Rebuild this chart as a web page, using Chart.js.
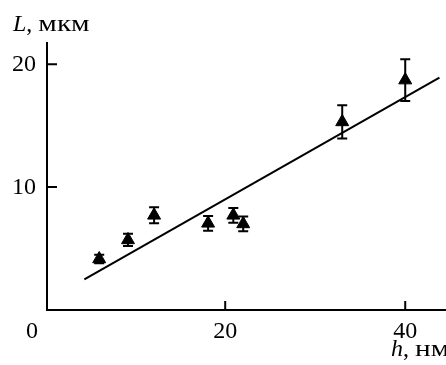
<!DOCTYPE html>
<html>
<head>
<meta charset="utf-8">
<script src="https://cdn.jsdelivr.net/npm/chart.js@4.4.1/dist/chart.umd.min.js"></script>
<style>
  html, body { margin: 0; padding: 0; background: #fff; }
  #wrap { width: 446px; height: 365px; }
</style>
</head>
<body>
<div id="wrap"><canvas id="chart" width="446" height="365"></canvas></div>
<script>
// measured points: film thickness h (nm) vs length L (um)
const hValues = [6.0, 9.2, 12.1, 18.1, 20.9, 22.0, 33.0, 40.0];
const lValues = [4.15, 5.7, 7.7, 7.05, 7.7, 7.0, 15.3, 18.7];
const lErrors = [0.35, 0.5, 0.65, 0.6, 0.6, 0.6, 1.35, 1.7];

// fitted line endpoints
const fitX = [4.35, 43.8];
const fitY = [2.5, 18.9];

const xTicks = [20, 40];
const yTicks = [10, 20];

const FONT = "24px 'Liberation Serif', 'Times New Roman', serif";
const FONT_IT = "italic 24px 'Liberation Serif', 'Times New Roman', serif";

// italic symbol + upright unit, unit text is drawn a bit wider like the original
function drawTitle(ctx, sym, unit, x, y) {
    ctx.font = FONT_IT;
    ctx.fillText(sym, x, y);
    const w = ctx.measureText(sym).width;
    ctx.font = FONT;
    ctx.fillText(",", x + w, y);
    const cw = ctx.measureText(", ").width;
    ctx.save();
    ctx.translate(x + w + cw, y);
    ctx.scale(1.22, 1);
    ctx.fillText(unit, 0, 0);
    ctx.restore();
}

const axesPlugin = {
    id: "axesPlugin",
    beforeDatasetsDraw(chart) {
        const ctx = chart.ctx;
        const x = chart.scales.x;
        const y = chart.scales.y;
        const area = chart.chartArea;

        ctx.save();
        ctx.strokeStyle = "#000";
        ctx.fillStyle = "#000";
        ctx.lineWidth = 2;

        // axis lines
        ctx.beginPath();
        ctx.moveTo(area.left, area.top);
        ctx.lineTo(area.left, area.bottom);
        ctx.lineTo(area.right, area.bottom);
        ctx.stroke();

        // inward ticks
        ctx.beginPath();
        xTicks.forEach(v => {
            const px = x.getPixelForValue(v);
            ctx.moveTo(px, area.bottom);
            ctx.lineTo(px, area.bottom - 9);
        });
        yTicks.forEach(v => {
            const py = y.getPixelForValue(v);
            ctx.moveTo(area.left, py);
            ctx.lineTo(area.left + 10, py);
        });
        ctx.stroke();

        // tick labels
        ctx.font = FONT;
        ctx.textAlign = "center";
        ctx.textBaseline = "alphabetic";
        xTicks.forEach(v => {
            ctx.fillText(String(v), x.getPixelForValue(v), area.bottom + 28);
        });
        ctx.fillText("0", area.left - 15, area.bottom + 28);

        ctx.textAlign = "right";
        ctx.textBaseline = "middle";
        yTicks.forEach(v => {
            ctx.fillText(String(v), area.left - 11, y.getPixelForValue(v) + 1);
        });

        // axis titles
        ctx.textAlign = "left";
        ctx.textBaseline = "alphabetic";
        drawTitle(ctx, "L", "мкм", 13, 31);
        drawTitle(ctx, "h", "нм", 391, 356);

        // error bars
        ctx.lineWidth = 2;
        ctx.beginPath();
        hValues.forEach((h, i) => {
            const px = x.getPixelForValue(h);
            const top = y.getPixelForValue(lValues[i] + lErrors[i]);
            const bot = y.getPixelForValue(lValues[i] - lErrors[i]);
            ctx.moveTo(px, top);
            ctx.lineTo(px, bot);
            ctx.moveTo(px - 5, top);
            ctx.lineTo(px + 5, top);
            ctx.moveTo(px - 5, bot);
            ctx.lineTo(px + 5, bot);
        });
        ctx.stroke();
        ctx.restore();
    }
};

const ctx = document.getElementById("chart").getContext("2d");
new Chart(ctx, {
    type: "scatter",
    data: {
        datasets: [
            {
                label: "fit",
                data: fitX.map((v, i) => ({ x: v, y: fitY[i] })),
                showLine: true,
                borderColor: "#000",
                borderWidth: 2,
                pointRadius: 0,
                fill: false
            },
            {
                label: "L",
                data: hValues.map((v, i) => ({ x: v, y: lValues[i] })),
                pointStyle: "triangle",
                pointRadius: 7.5,
                pointBackgroundColor: "#000",
                pointBorderColor: "#000",
                pointBorderWidth: 1
            }
        ]
    },
    options: {
        responsive: false,
        animation: false,
        layout: {
            autoPadding: false,
            padding: { left: 47, top: 42, right: 0, bottom: 55 }
        },
        plugins: {
            legend: { display: false },
            tooltip: { enabled: false }
        },
        scales: {
            x: { type: "linear", min: 0.2, max: 44.53, display: false },
            y: { type: "linear", min: 0, max: 21.8, display: false }
        }
    },
    plugins: [axesPlugin]
});
</script>
</body>
</html>
